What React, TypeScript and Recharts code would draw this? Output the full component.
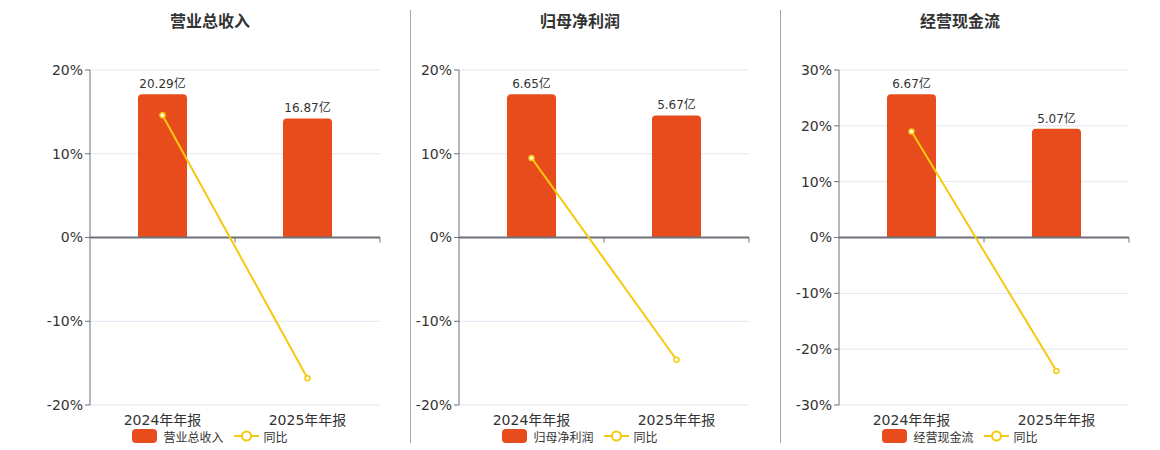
import React from "react";
import {
  Bar,
  CartesianGrid,
  ComposedChart,
  LabelList,
  Line,
  ReferenceLine,
  XAxis,
  YAxis,
} from "recharts";

const categories = ["2024年年报", "2025年年报"];

const revenue = [20.29, 16.87];
const revenueYoy = [14.6, -16.8];

const netProfit = [6.65, 5.67];
const netProfitYoy = [9.5, -14.6];

const cashFlow = [6.67, 5.07];
const cashFlowYoy = [19.0, -23.9];

const ticks20 = [-20, -10, 0, 10, 20];
const ticks30 = [-30, -20, -10, 0, 10, 20, 30];

const BAR_COLOR = "#e84c1c";
const LINE_COLOR = "#f5c90f";
const AXIS_COLOR = "#6e7079";
const FONT = '"DejaVu Sans", "Noto Sans CJK SC", sans-serif';

type Panel = {
  title: string;
  values: number[];
  yoy: number[];
  ticks: number[];
  chartLeft: number;
  center: number;
};

const panels: Panel[] = [
  { title: "营业总收入", values: revenue, yoy: revenueYoy, ticks: ticks20, chartLeft: 0, center: 210 },
  { title: "归母净利润", values: netProfit, yoy: netProfitYoy, ticks: ticks20, chartLeft: 369, center: 580 },
  { title: "经营现金流", values: cashFlow, yoy: cashFlowYoy, ticks: ticks30, chartLeft: 749, center: 960 },
];

// short tick hanging below the zero axis line
const ZeroTick = (props: any) => {
  const { x1, y1, y2 } = props;
  if (x1 == null) return null;
  const mid = (y1 + y2) / 2;
  return <line x1={x1} x2={x1} y1={mid} y2={mid + 5} stroke={AXIS_COLOR} strokeWidth={1} />;
};

function PanelChart({ p }: { p: Panel }) {
  const data = categories.map((c, i) => ({ name: c, value: p.values[i], yoy: p.yoy[i] }));
  const maxV = Math.max(...p.values) * 1.17;
  const lim = p.ticks[p.ticks.length - 1];

  return (
    <>
      <div
        style={{
          position: "absolute",
          left: p.center - 100,
          top: 11,
          width: 200,
          textAlign: "center",
          fontSize: 16,
          fontWeight: "bold",
          color: "#333",
          lineHeight: "22px",
        }}
      >
        {p.title}
      </div>
      <div style={{ position: "absolute", left: p.chartLeft, top: 0 }}>
        <ComposedChart
          width={410}
          height={450}
          data={data}
          margin={{ top: 70, right: 30, bottom: 15, left: 0 }}
        >
          <CartesianGrid yAxisId="pct" vertical={false} stroke="#e0e6f1" />
          <XAxis
            dataKey="name"
            height={30}
            axisLine={false}
            tickLine={false}
            tickSize={0}
            tickMargin={10}
            tick={{ fill: "#333", fontSize: 14 }}
          />
          <YAxis
            yAxisId="pct"
            width={90}
            domain={[-lim, lim]}
            ticks={p.ticks}
            interval={0}
            axisLine={{ stroke: AXIS_COLOR }}
            tickLine={{ stroke: AXIS_COLOR }}
            tickSize={5}
            tickMargin={2}
            tick={{ fill: "#333", fontSize: 14 }}
            tickFormatter={(v: number) => `${v}%`}
          />
          <YAxis yAxisId="bar" hide orientation="right" width={0} domain={[-maxV, maxV]} />
          <ReferenceLine yAxisId="pct" y={0} stroke={AXIS_COLOR} strokeWidth={2} />
          <ReferenceLine
            yAxisId="pct"
            x={categories[1]}
            position="start"
            shape={ZeroTick}
          />
          <ReferenceLine
            yAxisId="pct"
            x={categories[1]}
            position="end"
            shape={ZeroTick}
          />
          <Bar
            yAxisId="bar"
            dataKey="value"
            fill={BAR_COLOR}
            barSize={49}
            radius={[4, 4, 0, 0]}
            isAnimationActive={false}
          >
            <LabelList
              dataKey="value"
              position="top"
              offset={6}
              fill="#333"
              fontSize={12}
              formatter={(v: any) => `${v}亿`}
            />
          </Bar>
          <Line
            yAxisId="pct"
            dataKey="yoy"
            stroke={LINE_COLOR}
            strokeWidth={2}
            dot={{ r: 2.5, fill: "#fff", stroke: LINE_COLOR, strokeWidth: 1.5 }}
            activeDot={false}
            isAnimationActive={false}
          />
        </ComposedChart>
      </div>
      <div
        style={{
          position: "absolute",
          left: p.center - 150,
          top: 429,
          width: 300,
          display: "flex",
          justifyContent: "center",
          alignItems: "center",
          fontSize: 12,
          color: "#333",
          height: 14,
        }}
      >
        <span
          style={{
            display: "inline-block",
            width: 25,
            height: 14,
            borderRadius: 4,
            background: BAR_COLOR,
            marginRight: 6,
          }}
        />
        <span style={{ marginRight: 10 }}>{p.title}</span>
        <svg width={25} height={14} style={{ marginRight: 5 }}>
          <line x1={0} x2={25} y1={7} y2={7} stroke={LINE_COLOR} strokeWidth={2} />
          <circle cx={12.5} cy={7} r={4.5} fill="#fff" stroke={LINE_COLOR} strokeWidth={2} />
        </svg>
        <span>同比</span>
      </div>
    </>
  );
}

export default function App() {
  return (
    <div
      style={{
        position: "absolute",
        left: 0,
        top: 0,
        width: 1160,
        height: 450,
        background: "#fff",
        fontFamily: FONT,
        overflow: "hidden",
      }}
    >
      {panels.map((p) => (
        <PanelChart key={p.title} p={p} />
      ))}
      <div style={{ position: "absolute", left: 410, top: 10, width: 1, height: 433, background: "#a6a6a6" }} />
      <div style={{ position: "absolute", left: 780, top: 10, width: 1, height: 433, background: "#a6a6a6" }} />
    </div>
  );
}
